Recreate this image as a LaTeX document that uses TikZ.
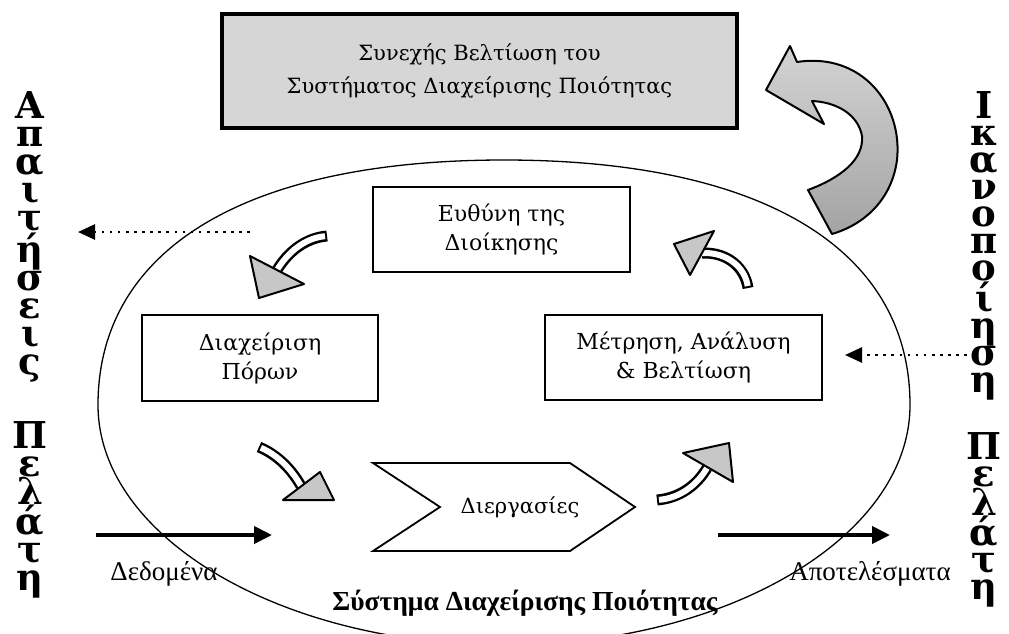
\documentclass[tikz,border=0pt]{standalone}
\usepackage{fontspec}
\setmainfont{DejaVu Serif}
\newfontfamily\timesf{Liberation Serif}
\usetikzlibrary{arrows.meta}
\begin{document}
\begin{tikzpicture}[x=1pt,y=-1pt,
  box/.style={draw, line width=1.8pt, fill=white, align=center, inner sep=0pt,
    font=\fontsize{22}{29}\selectfont},
  topbox/.style={draw, line width=3.5pt, fill=black!16, align=center, inner sep=0pt,
    font=\fontsize{21}{33}\selectfont},
  vtext/.style={align=center, inner sep=0pt, font=\fontsize{37}{28}\selectfont\bfseries},
  vtextr/.style={align=center, inner sep=0pt, font=\fontsize{37}{27}\selectfont\bfseries},
  dotarrow/.style={line width=2.6pt, dash pattern=on 2.6pt off 5.5pt, -{Triangle[length=17pt,width=15pt]}},
  solidarrow/.style={line width=4pt, -{Triangle[length=18pt,width=17pt]}},
  ribbon/.style={line width=11pt, black},
  ribbonin/.style={line width=6pt, white, shorten <=2pt},
  smallhead/.style={fill=black!22, draw=black, line width=2pt, line join=round},
  bigarrow/.style={top color=black!17, bottom color=black!36, draw=black, line width=2pt, line join=round},
  lbl/.style={inner sep=0pt, font=\timesf\fontsize{27}{29}\selectfont},
]
\useasboundingbox (0,0) rectangle (1009,633);
% quality system ellipse
\draw[line width=1.3pt] (98,405) .. controls (98,250) and (244,160) .. (504,160)
  .. controls (764,160) and (910,250) .. (910,405)
  .. controls (910,537) and (727,645) .. (504,645)
  .. controls (281,645) and (98,537) .. (98,405) -- cycle;

% top box
\node[topbox, minimum width=515, minimum height=114] (cont) at (479.5,71)
  {Συνεχής Βελτίωση του\\Συστήματος Διαχείρισης Ποιότητας};

% big curved arrow
\shade[bigarrow] (766,90) -- (790,46) -- (797,62)
  .. controls (862,52) and (903,105) .. (897,160)
  .. controls (892,198) and (866,224) .. (832,234)
  -- (808,190)
  .. controls (840,178) and (864,160) .. (862,136)
  .. controls (858,114) and (836,102) .. (812,101)
  -- (824,124) -- cycle;

% process boxes
\node[box, minimum width=257, minimum height=85] (euth) at (501.5,229.5) {Ευθύνη της\\Διοίκησης};
\node[box, minimum width=236, minimum height=86] (res) at (260,358) {Διαχείριση\\Πόρων};
\node[box, minimum width=277, minimum height=85] (meas) at (683.5,357.5) {Μέτρηση, Ανάλυση\\\& Βελτίωση};

% chevron
\draw[line width=1.8pt, fill=white, line join=miter] (373,463) -- (570,463) -- (635,507) -- (570,551) -- (373,551) -- (440,507) -- cycle;
\node[inner sep=0pt, font=\fontsize{21}{24}\selectfont] (proc) at (520,507) {Διεργασίες};

% small curved arrows
\coordinate (a1t) at (327,236); \coordinate (a1b) at (277,270);
\draw[ribbon] (a1t) .. controls (305,238) and (288,252) .. (a1b);
\draw[ribbonin] (a1t) .. controls (305,238) and (288,252) .. (a1b);
\filldraw[smallhead] (250,256) -- (259,298) -- (304,284) -- cycle;

\coordinate (a2t) at (748,288); \coordinate (a2b) at (702,253);
\draw[ribbon] (a2t) .. controls (745,268) and (728,252) .. (a2b);
\draw[ribbonin] (a2t) .. controls (745,268) and (728,252) .. (a2b);
\filldraw[smallhead] (714,231) -- (674,244) -- (690,275) -- cycle;

\coordinate (a3t) at (259,447); \coordinate (a3b) at (301,486);
\draw[ribbon] (a3t) .. controls (278,455) and (292,470) .. (a3b);
\draw[ribbonin] (a3t) .. controls (278,455) and (292,470) .. (a3b);
\filldraw[smallhead] (283,500) -- (334,500) -- (320,472) -- cycle;

\coordinate (a4t) at (657,500); \coordinate (a4b) at (707,468);
\draw[ribbon] (a4t) .. controls (680,498) and (697,485) .. (a4b);
\draw[ribbonin] (a4t) .. controls (680,498) and (697,485) .. (a4b);
\filldraw[smallhead] (683,453) -- (729,443) -- (733,482) -- cycle;

% dotted arrows
\coordinate (dl1) at (250,232); \coordinate (dl2) at (78,232);
\draw[dotarrow] (dl1) -- (dl2);
\coordinate (dr1) at (975,355); \coordinate (dr2) at (845,355);
\draw[dotarrow] (dr1) -- (dr2);

% input / output arrows
\coordinate (in1) at (96,535); \coordinate (in2) at (272,535);
\draw[solidarrow] (in1) -- (in2);
\coordinate (out1) at (718,535); \coordinate (out2) at (890,535);
\draw[solidarrow] (out1) -- (out2);

\node[lbl] (data) at (164,574) {Δεδομένα};
\node[lbl] (results) at (870,574) {Αποτελέσματα};
\node[inner sep=0pt, font=\timesf\bfseries\fontsize{27.5}{29}\selectfont] (qms) at (525,603) {Σύστημα Διαχείρισης Ποιότητας};

% vertical side texts
\node[vtext] (req1) at (30,237) {Α\\π\\α\\ι\\τ\\ή\\σ\\ε\\ι\\ς};
\node[vtext] (req2) at (30,510) {Π\\ε\\λ\\ά\\τ\\η};
\node[vtextr] (sat1) at (984,246) {Ι\\κ\\α\\ν\\ο\\π\\ο\\ί\\η\\σ\\η};
\node[vtextr] (sat2) at (984,520) {Π\\ε\\λ\\ά\\τ\\η};
\end{tikzpicture}
\end{document}
